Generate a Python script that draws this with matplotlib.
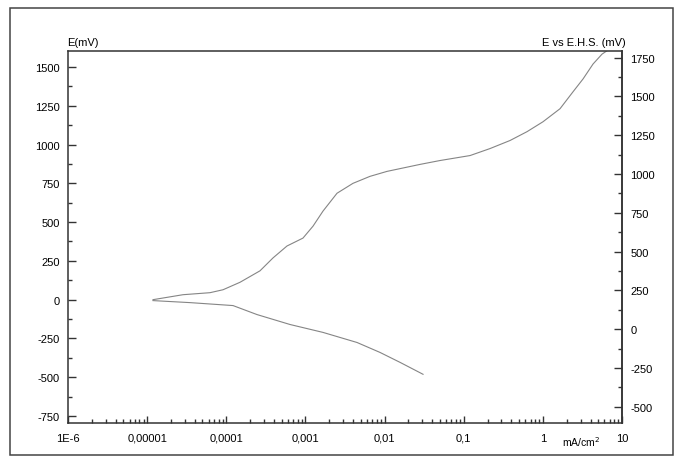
import numpy as np
import matplotlib.pyplot as plt
from matplotlib.patches import Rectangle
from matplotlib.ticker import FixedLocator, LogLocator, NullFormatter

plt.rcParams['font.family'] = ['Liberation Sans', 'DejaVu Sans']
plt.rcParams['axes.unicode_minus'] = False

# Anodic branch: log10 of current density (mA/cm2) and potential (mV)
anodic_logi = [-4.926, -4.547, -4.206, -4.041, -3.827, -3.574, -3.410, -3.233,
               -3.031, -2.904, -2.778, -2.601, -2.399, -2.184, -1.969, -1.552,
               -1.299, -0.920, -0.668, -0.415, -0.200, 0.002, 0.217, 0.381,
               0.508, 0.634, 0.748, 0.870]
anodic_e = [0, 32, 45, 64, 112, 186, 269, 346, 397, 474, 571, 686, 750, 795,
            827, 872, 897, 929, 974, 1026, 1083, 1147, 1231, 1340, 1423, 1519,
            1583, 1625]

# Cathodic branch
cathodic_logi = [-4.926, -4.458, -3.915, -3.612, -3.195, -2.778, -2.348,
                 -2.058, -1.805, -1.514]
cathodic_e = [-6, -19, -38, -96, -160, -211, -276, -340, -404, -481]

xtick_vals = [1e-6, 1e-5, 1e-4, 1e-3, 1e-2, 1e-1, 1, 10]
xtick_labels = ["1E-6", "0,00001", "0,0001", "0,001", "0,01", "0,1", "1", "10"]
left_ticks = [1500, 1250, 1000, 750, 500, 250, 0, -250, -500, -750]
right_ticks = [1750, 1500, 1250, 1000, 750, 500, 250, 0, -250, -500]
EHS_OFFSET = 190  # shift between the two potential scales

fig = plt.figure(figsize=(6.83, 4.60), dpi=100)
ax = fig.add_axes([68 / 683, 1 - 424 / 460, 554 / 683, 372 / 460])

line_kw = dict(color="#858585", lw=0.8, solid_joinstyle="round")
ax.plot(10 ** np.array(cathodic_logi[::-1]), cathodic_e[::-1], **line_kw)
ax.plot(10 ** np.array(anodic_logi), anodic_e, **line_kw)

ax.set_xscale("log")
ax.set_xlim(1e-6, 10)
ax.set_ylim(-795, 1603)

ax.xaxis.set_major_locator(FixedLocator(xtick_vals))
ax.set_xticklabels(xtick_labels)
ax.xaxis.set_minor_locator(LogLocator(base=10, subs=np.arange(2, 10), numticks=20))
ax.xaxis.set_minor_formatter(NullFormatter())

ax.set_yticks(left_ticks)
ax.set_yticks(np.arange(-750, 1600, 125), minor=True)

for sp in ax.spines.values():
    sp.set_linewidth(1.1)
    sp.set_color("#333333")

ax.tick_params(which="major", direction="in", length=6, width=1, labelsize=8,
               color="#333333", pad=6)
ax.tick_params(which="minor", direction="in", length=3, width=1, color="#333333")
ax.tick_params(axis="x", which="major", length=5, pad=7)

sec = ax.secondary_yaxis("right", functions=(lambda y: y + EHS_OFFSET,
                                             lambda y: y - EHS_OFFSET))
sec.set_yticks(right_ticks)
sec.set_yticks(np.arange(-625, 1800, 125), minor=True)
sec.spines["right"].set_linewidth(1.1)
sec.spines["right"].set_color("#333333")
sec.tick_params(which="major", direction="in", length=6, width=1, labelsize=8,
                color="#333333", pad=6)
sec.tick_params(which="minor", direction="in", length=3, width=1, color="#333333")

fig.text(83 / 683, 1 - 43 / 460, "E(mV)", fontsize=8, ha="center", va="center")
fig.text(626 / 683, 1 - 43 / 460, "E vs E.H.S. (mV)", fontsize=8,
         ha="right", va="center")
fig.text(581 / 683, 1 - 442 / 460, "mA/cm$^2$", fontsize=7.5,
         ha="center", va="center")

fig.patches.append(Rectangle((10 / 683, 1 - 456 / 460), 663 / 683, 447 / 460,
                             transform=fig.transFigure, fill=False,
                             edgecolor="#444444", lw=1.1))

fig.savefig("out.png", dpi=100)
